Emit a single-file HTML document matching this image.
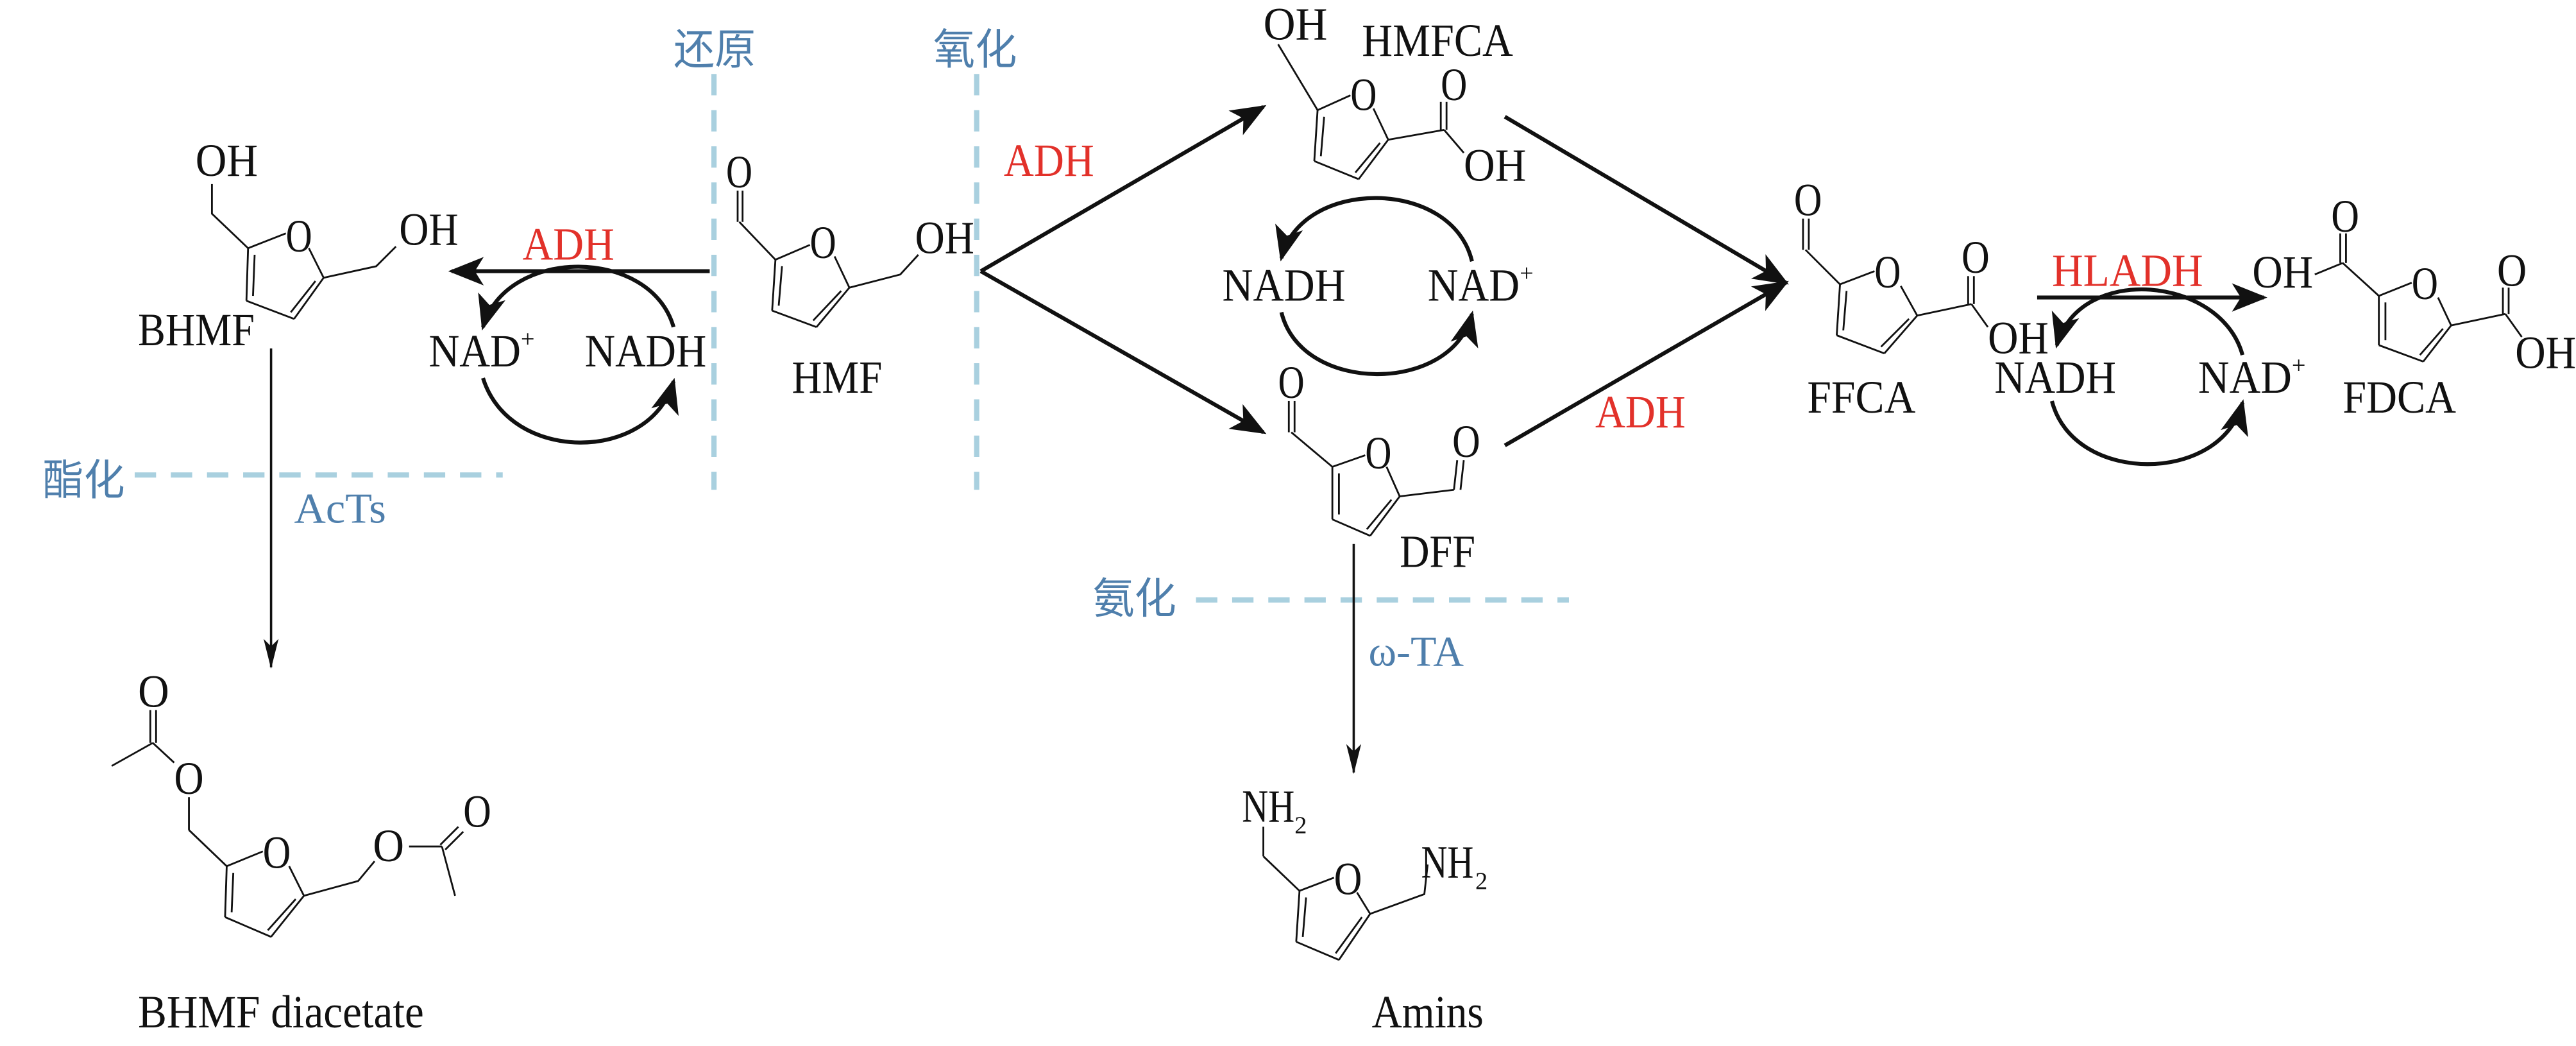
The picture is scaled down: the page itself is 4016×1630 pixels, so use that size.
<!DOCTYPE html>
<html><head><meta charset="utf-8"><style>
html,body{margin:0;padding:0;background:#fff;}
svg{display:block;}
text{font-family:"Liberation Serif","Noto Serif CJK SC",serif;}
.t{font-size:28px;fill:#111;}
.r{font-size:28px;fill:#e2312a;}
.b{font-size:26px;fill:#4f7fac;font-family:"Liberation Serif","Noto Sans CJK SC",sans-serif;}
.bd{stroke:#111;stroke-width:1.1;fill:none;}
.ar{stroke:#111;stroke-width:2.4;fill:none;}
.th{stroke:#111;stroke-width:1.4;fill:none;}
.ds{stroke:#a9d0df;stroke-width:3.2;stroke-dasharray:13 9;fill:none;}
</style></head><body>
<svg width="4016" height="1630" viewBox="0 0 1568 636.4" preserveAspectRatio="none" xmlns="http://www.w3.org/2000/svg">
<defs>
<marker id="ah" viewBox="0 0 20 10" refX="19" refY="5" markerWidth="13" markerHeight="6.5" orient="auto" markerUnits="strokeWidth">
<path d="M0,0 L20,5 L0,10 L5,5 Z" fill="#111"/></marker>
<marker id="ah2" viewBox="0 0 10 10" refX="9" refY="5" markerWidth="9" markerHeight="9" orient="auto" markerUnits="strokeWidth">
<path d="M0,1 L10,5 L0,9 L2.5,5 Z" fill="#111"/></marker>
</defs>

<text class="b" x="410" y="39" textLength="50" lengthAdjust="spacingAndGlyphs">还原</text>
<text class="b" x="568" y="39" textLength="51" lengthAdjust="spacingAndGlyphs">氧化</text>
<line class="ds" x1="434.6" y1="45" x2="434.6" y2="298"/>
<line class="ds" x1="594.5" y1="45" x2="594.5" y2="298"/>
<text class="b" x="26" y="301" textLength="50" lengthAdjust="spacingAndGlyphs">酯化</text>
<line class="ds" x1="82" y1="289" x2="306" y2="289"/>
<text class="b" x="665" y="373" textLength="51" lengthAdjust="spacingAndGlyphs">氨化</text>
<line class="ds" x1="728" y1="365" x2="955" y2="365"/>

<!-- BHMF -->
<text class="t" x="119" y="107" textLength="38" lengthAdjust="spacingAndGlyphs">OH</text>
<polyline class="bd" points="129,112 129,130 151,151"/>
<line class="bd" x1="151" y1="151" x2="174" y2="142"/>
<text class="t" x="174" y="153" textLength="16" lengthAdjust="spacingAndGlyphs">O</text>
<line class="bd" x1="188" y1="151" x2="197" y2="169"/>
<line class="bd" x1="197" y1="169" x2="179" y2="194"/>
<line class="bd" x1="192" y1="171" x2="177" y2="190"/>
<line class="bd" x1="179" y1="194" x2="150" y2="183"/>
<line class="bd" x1="150" y1="183" x2="151" y2="151"/>
<line class="bd" x1="154" y1="180" x2="155" y2="155"/>
<polyline class="bd" points="197,169 229,162 241,150"/>
<text class="t" x="243" y="149" textLength="36" lengthAdjust="spacingAndGlyphs">OH</text>
<text class="t" x="84" y="210" textLength="71" lengthAdjust="spacingAndGlyphs">BHMF</text>

<text class="r" x="318" y="158" textLength="56" lengthAdjust="spacingAndGlyphs">ADH</text>
<line class="ar" x1="432" y1="165" x2="275" y2="165" marker-end="url(#ah2)"/>
<path class="ar" d="M410,199 C396,150 308,150 294,199" marker-end="url(#ah2)"/>
<text class="t" x="261" y="223" textLength="56" lengthAdjust="spacingAndGlyphs">NAD</text>
<text class="t" x="317" y="211" style="font-size:15px">+</text>
<text class="t" x="356" y="223" textLength="74" lengthAdjust="spacingAndGlyphs">NADH</text>
<path class="ar" d="M294,230 C310,282 396,282 410,232" marker-end="url(#ah2)"/>

<!-- HMF -->
<text class="t" x="442" y="114" textLength="16" lengthAdjust="spacingAndGlyphs">O</text>
<line class="bd" x1="449" y1="116" x2="449" y2="135"/>
<line class="bd" x1="452" y1="116" x2="452" y2="135"/>
<line class="bd" x1="450" y1="135" x2="472" y2="158"/>
<line class="bd" x1="472" y1="158" x2="493" y2="149"/>
<text class="t" x="493" y="157" textLength="16" lengthAdjust="spacingAndGlyphs">O</text>
<line class="bd" x1="508" y1="156" x2="517" y2="175"/>
<line class="bd" x1="517" y1="175" x2="497" y2="199"/>
<line class="bd" x1="512" y1="177" x2="495" y2="195"/>
<line class="bd" x1="497" y1="199" x2="470" y2="189"/>
<line class="bd" x1="470" y1="189" x2="472" y2="158"/>
<line class="bd" x1="474" y1="186" x2="476" y2="162"/>
<polyline class="bd" points="517,175 548,167 559,155"/>
<text class="t" x="557" y="154" textLength="36" lengthAdjust="spacingAndGlyphs">OH</text>
<text class="t" x="482" y="239" textLength="55" lengthAdjust="spacingAndGlyphs">HMF</text>

<text class="r" x="611" y="107" textLength="55" lengthAdjust="spacingAndGlyphs">ADH</text>
<line class="ar" x1="597" y1="165" x2="769" y2="65" marker-end="url(#ah2)"/>
<line class="ar" x1="597" y1="165" x2="769" y2="263" marker-end="url(#ah2)"/>

<!-- HMFCA -->
<text class="t" x="769" y="24" textLength="39" lengthAdjust="spacingAndGlyphs">OH</text>
<text class="t" x="829" y="34" textLength="92" lengthAdjust="spacingAndGlyphs">HMFCA</text>
<polyline class="bd" points="778,27 802,67"/>
<line class="bd" x1="802" y1="67" x2="822" y2="58"/>
<text class="t" x="822" y="67" textLength="16" lengthAdjust="spacingAndGlyphs">O</text>
<line class="bd" x1="836" y1="66" x2="845" y2="85"/>
<line class="bd" x1="845" y1="85" x2="827" y2="109"/>
<line class="bd" x1="840" y1="87" x2="825" y2="105"/>
<line class="bd" x1="827" y1="109" x2="800" y2="98"/>
<line class="bd" x1="800" y1="98" x2="802" y2="67"/>
<line class="bd" x1="804" y1="95" x2="806" y2="71"/>
<line class="bd" x1="845" y1="85" x2="879" y2="79"/>
<line class="bd" x1="877" y1="79" x2="877" y2="62"/>
<line class="bd" x1="880.5" y1="79" x2="880.5" y2="62"/>
<text class="t" x="877" y="61" textLength="16" lengthAdjust="spacingAndGlyphs">O</text>
<line class="bd" x1="879" y1="79" x2="891" y2="93"/>
<text class="t" x="891" y="110" textLength="38" lengthAdjust="spacingAndGlyphs">OH</text>

<path class="ar" d="M896,159 C884,108 792,108 780,157" marker-end="url(#ah2)"/>
<text class="t" x="744" y="183" textLength="75" lengthAdjust="spacingAndGlyphs">NADH</text>
<text class="t" x="869" y="183" textLength="56" lengthAdjust="spacingAndGlyphs">NAD</text>
<text class="t" x="925" y="171" style="font-size:15px">+</text>
<path class="ar" d="M780,190 C792,240 884,240 896,191" marker-end="url(#ah2)"/>

<!-- DFF -->
<text class="t" x="778" y="242" textLength="16" lengthAdjust="spacingAndGlyphs">O</text>
<line class="bd" x1="784.5" y1="244" x2="784.5" y2="263"/>
<line class="bd" x1="788" y1="244" x2="788" y2="263"/>
<line class="bd" x1="786" y1="263" x2="811" y2="284"/>
<line class="bd" x1="811" y1="284" x2="831" y2="277"/>
<text class="t" x="831" y="285" textLength="16" lengthAdjust="spacingAndGlyphs">O</text>
<line class="bd" x1="844" y1="284" x2="852" y2="302"/>
<line class="bd" x1="852" y1="302" x2="834" y2="326"/>
<line class="bd" x1="847" y1="304" x2="832" y2="322"/>
<line class="bd" x1="834" y1="326" x2="811" y2="316"/>
<line class="bd" x1="811" y1="316" x2="811" y2="284"/>
<line class="bd" x1="815" y1="313" x2="815" y2="288"/>
<line class="bd" x1="852" y1="302" x2="885" y2="298"/>
<line class="bd" x1="885" y1="298" x2="887" y2="280"/>
<line class="bd" x1="889" y1="298" x2="891" y2="280"/>
<text class="t" x="884" y="278" textLength="17" lengthAdjust="spacingAndGlyphs">O</text>
<text class="t" x="852" y="345" textLength="46" lengthAdjust="spacingAndGlyphs">DFF</text>

<line class="ar" x1="916" y1="71" x2="1087" y2="172" marker-end="url(#ah2)"/>
<line class="ar" x1="916" y1="271" x2="1087" y2="172" marker-end="url(#ah2)"/>
<text class="r" x="971" y="260" textLength="55" lengthAdjust="spacingAndGlyphs">ADH</text>

<!-- FFCA -->
<text class="t" x="1092" y="131" textLength="17" lengthAdjust="spacingAndGlyphs">O</text>
<line class="bd" x1="1097.5" y1="133" x2="1097.5" y2="152"/>
<line class="bd" x1="1101" y1="133" x2="1101" y2="152"/>
<line class="bd" x1="1099" y1="152" x2="1120" y2="173"/>
<line class="bd" x1="1120" y1="173" x2="1141" y2="165"/>
<text class="t" x="1141" y="175" textLength="16" lengthAdjust="spacingAndGlyphs">O</text>
<line class="bd" x1="1157" y1="174" x2="1167" y2="192"/>
<line class="bd" x1="1167" y1="192" x2="1147" y2="215"/>
<line class="bd" x1="1162" y1="194" x2="1145" y2="211"/>
<line class="bd" x1="1147" y1="215" x2="1118" y2="204"/>
<line class="bd" x1="1118" y1="204" x2="1120" y2="173"/>
<line class="bd" x1="1122" y1="201" x2="1124" y2="177"/>
<line class="bd" x1="1167" y1="192" x2="1200" y2="185"/>
<line class="bd" x1="1198" y1="185" x2="1198" y2="168"/>
<line class="bd" x1="1201.5" y1="185" x2="1201.5" y2="168"/>
<text class="t" x="1194" y="166" textLength="17" lengthAdjust="spacingAndGlyphs">O</text>
<line class="bd" x1="1200" y1="185" x2="1210" y2="199"/>
<text class="t" x="1210" y="215" textLength="37" lengthAdjust="spacingAndGlyphs">OH</text>
<text class="t" x="1100" y="251" textLength="66" lengthAdjust="spacingAndGlyphs">FFCA</text>

<text class="r" x="1249" y="174" textLength="92" lengthAdjust="spacingAndGlyphs">HLADH</text>
<line class="ar" x1="1240" y1="181" x2="1378" y2="181" marker-end="url(#ah2)"/>
<path class="ar" d="M1365,216 C1352,168 1266,160 1252,210" marker-end="url(#ah2)"/>
<text class="t" x="1214" y="239" textLength="74" lengthAdjust="spacingAndGlyphs">NADH</text>
<text class="t" x="1338" y="239" textLength="57" lengthAdjust="spacingAndGlyphs">NAD</text>
<text class="t" x="1395" y="227" style="font-size:15px">+</text>
<path class="ar" d="M1249,244 C1262,295 1352,295 1365,245" marker-end="url(#ah2)"/>

<!-- FDCA -->
<text class="t" x="1371" y="175" textLength="37" lengthAdjust="spacingAndGlyphs">OH</text>
<line class="bd" x1="1409" y1="167" x2="1426" y2="160"/>
<line class="bd" x1="1424.5" y1="160" x2="1424.5" y2="142"/>
<line class="bd" x1="1428" y1="160" x2="1428" y2="142"/>
<text class="t" x="1419" y="141" textLength="17" lengthAdjust="spacingAndGlyphs">O</text>
<line class="bd" x1="1426" y1="160" x2="1448" y2="180"/>
<line class="bd" x1="1448" y1="180" x2="1468" y2="172"/>
<text class="t" x="1468" y="182" textLength="16" lengthAdjust="spacingAndGlyphs">O</text>
<line class="bd" x1="1484" y1="181" x2="1492" y2="198"/>
<line class="bd" x1="1492" y1="198" x2="1475" y2="220"/>
<line class="bd" x1="1487" y1="200" x2="1473" y2="216"/>
<line class="bd" x1="1475" y1="220" x2="1448" y2="210"/>
<line class="bd" x1="1448" y1="210" x2="1448" y2="180"/>
<line class="bd" x1="1452" y1="207" x2="1452" y2="184"/>
<line class="bd" x1="1492" y1="198" x2="1525" y2="191"/>
<line class="bd" x1="1523.5" y1="191" x2="1523.5" y2="175"/>
<line class="bd" x1="1527" y1="191" x2="1527" y2="175"/>
<text class="t" x="1520" y="174" textLength="18" lengthAdjust="spacingAndGlyphs">O</text>
<line class="bd" x1="1525" y1="191" x2="1535" y2="205"/>
<text class="t" x="1531" y="224" textLength="37" lengthAdjust="spacingAndGlyphs">OH</text>
<text class="t" x="1426" y="251" textLength="69" lengthAdjust="spacingAndGlyphs">FDCA</text>

<line class="th" x1="165" y1="212" x2="165" y2="406" marker-end="url(#ah)"/>
<text class="b" x="179" y="318" textLength="56" lengthAdjust="spacingAndGlyphs">AcTs</text>

<!-- BHMF diacetate -->
<text class="t" x="84" y="430" textLength="19" lengthAdjust="spacingAndGlyphs">O</text>
<line class="bd" x1="91.5" y1="432" x2="91.5" y2="452"/>
<line class="bd" x1="95" y1="432" x2="95" y2="452"/>
<line class="bd" x1="93" y1="452" x2="68" y2="466"/>
<line class="bd" x1="93" y1="452" x2="106" y2="464"/>
<text class="t" x="106" y="483" textLength="18" lengthAdjust="spacingAndGlyphs">O</text>
<line class="bd" x1="115" y1="485" x2="115" y2="505"/>
<line class="bd" x1="115" y1="505" x2="138" y2="527"/>
<line class="bd" x1="138" y1="527" x2="160" y2="518"/>
<text class="t" x="160" y="528" textLength="17" lengthAdjust="spacingAndGlyphs">O</text>
<line class="bd" x1="176" y1="527" x2="185" y2="545"/>
<line class="bd" x1="185" y1="545" x2="165" y2="570"/>
<line class="bd" x1="180" y1="547" x2="163" y2="566"/>
<line class="bd" x1="165" y1="570" x2="137" y2="558"/>
<line class="bd" x1="137" y1="558" x2="138" y2="527"/>
<line class="bd" x1="141" y1="555" x2="142" y2="531"/>
<polyline class="bd" points="185,545 218,536 228,524"/>
<text class="t" x="227" y="524" textLength="19" lengthAdjust="spacingAndGlyphs">O</text>
<line class="bd" x1="249" y1="515" x2="269" y2="515"/>
<line class="bd" x1="268" y1="514" x2="279" y2="503"/>
<line class="bd" x1="271" y1="517" x2="282" y2="506"/>
<text class="t" x="282" y="503" textLength="17" lengthAdjust="spacingAndGlyphs">O</text>
<line class="bd" x1="269" y1="515" x2="277" y2="545"/>
<text class="t" x="84" y="625" textLength="174" lengthAdjust="spacingAndGlyphs">BHMF diacetate</text>

<line class="th" x1="824" y1="331" x2="824" y2="470" marker-end="url(#ah)"/>
<text class="b" x="833" y="405" textLength="58" lengthAdjust="spacingAndGlyphs">ω-TA</text>

<!-- Amins -->
<text class="t" x="756" y="500" textLength="32" lengthAdjust="spacingAndGlyphs">NH</text>
<text class="t" x="788" y="507" style="font-size:15px">2</text>
<line class="bd" x1="769" y1="503" x2="769" y2="521"/>
<line class="bd" x1="769" y1="521" x2="791" y2="542"/>
<line class="bd" x1="791" y1="542" x2="812" y2="534"/>
<text class="t" x="812" y="544" textLength="17" lengthAdjust="spacingAndGlyphs">O</text>
<line class="bd" x1="826" y1="543" x2="834" y2="556"/>
<line class="bd" x1="834" y1="556" x2="815" y2="584"/>
<line class="bd" x1="829" y1="558" x2="813" y2="580"/>
<line class="bd" x1="815" y1="584" x2="789" y2="573"/>
<line class="bd" x1="789" y1="573" x2="791" y2="542"/>
<line class="bd" x1="793" y1="570" x2="795" y2="546"/>
<polyline class="bd" points="834,556 867,544 869,526"/>
<text class="t" x="865" y="534" textLength="32" lengthAdjust="spacingAndGlyphs">NH</text>
<text class="t" x="898" y="541" style="font-size:15px">2</text>
<text class="t" x="835" y="625" textLength="68" lengthAdjust="spacingAndGlyphs">Amins</text>
</svg>
</body></html>
